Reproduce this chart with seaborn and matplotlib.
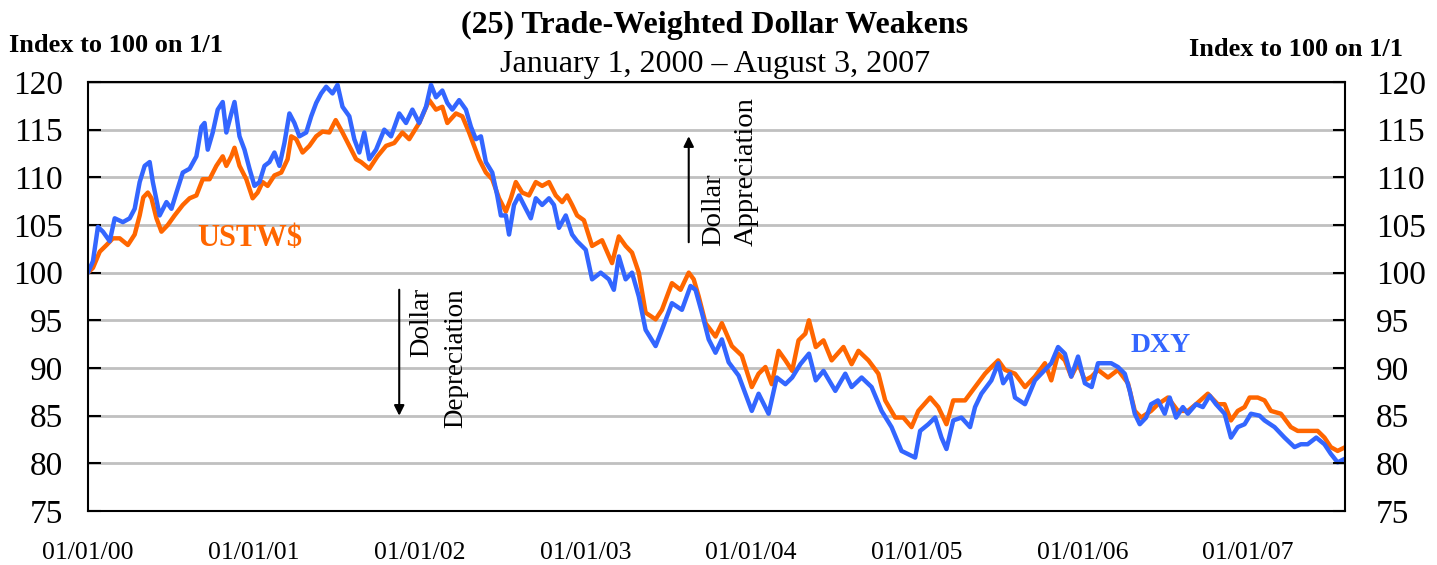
import pandas as pd
import seaborn as sns
import matplotlib.pyplot as plt
import matplotlib.dates as mdates

# USTW$ (orange)
ustw_dates = [
    "2000-01-01", "2000-01-12", "2000-01-27", "2000-02-11", "2000-02-25", "2000-03-11",
    "2000-03-29", "2000-04-13", "2000-04-24", "2000-05-02", "2000-05-12", "2000-05-20",
    "2000-05-31", "2000-06-11", "2000-06-25", "2000-07-10", "2000-07-28", "2000-08-12",
    "2000-08-27", "2000-09-10", "2000-09-25", "2000-10-10", "2000-10-24", "2000-11-01",
    "2000-11-12", "2000-11-19", "2000-11-30", "2000-12-15", "2000-12-29", "2001-01-09",
    "2001-01-20", "2001-01-31", "2001-02-15", "2001-03-02", "2001-03-16", "2001-03-24",
    "2001-04-04", "2001-04-18", "2001-05-03", "2001-05-18", "2001-06-01", "2001-06-16",
    "2001-06-30", "2001-07-15", "2001-07-30", "2001-08-14", "2001-08-25", "2001-09-12",
    "2001-09-30", "2001-10-19", "2001-11-06", "2001-11-24", "2001-12-09", "2001-12-31",
    "2002-01-22", "2002-02-06", "2002-02-20", "2002-03-03", "2002-03-22", "2002-04-05",
    "2002-04-20", "2002-05-01", "2002-05-12", "2002-05-27", "2002-06-10", "2002-06-25",
    "2002-07-10", "2002-07-21", "2002-08-01", "2002-08-15", "2002-08-30", "2002-09-14",
    "2002-09-28", "2002-10-13", "2002-10-28", "2002-11-11", "2002-11-22", "2002-12-03",
    "2002-12-14", "2002-12-29", "2003-01-16", "2003-02-07", "2003-03-01", "2003-03-16",
    "2003-03-31", "2003-04-14", "2003-04-29", "2003-05-14", "2003-06-05", "2003-06-19",
    "2003-07-11", "2003-07-30", "2003-08-17", "2003-08-28", "2003-09-08", "2003-09-23",
    "2003-10-15", "2003-10-29", "2003-11-20", "2003-12-12", "2004-01-03", "2004-01-18",
    "2004-02-02", "2004-02-16", "2004-03-02", "2004-03-17", "2004-04-01", "2004-04-15",
    "2004-04-30", "2004-05-08", "2004-05-23", "2004-06-09", "2004-06-27", "2004-07-23",
    "2004-08-10", "2004-08-25", "2004-09-16", "2004-10-08", "2004-10-23", "2004-11-14",
    "2004-12-02", "2004-12-20", "2005-01-04", "2005-01-30", "2005-02-17", "2005-03-07",
    "2005-03-22", "2005-04-17", "2005-05-09", "2005-05-31", "2005-06-14", "2005-06-29",
    "2005-07-14", "2005-08-05", "2005-08-27", "2005-09-18", "2005-10-10", "2005-10-24",
    "2005-11-08", "2005-11-23", "2005-12-07", "2005-12-22", "2006-01-06", "2006-01-21",
    "2006-02-04", "2006-02-26", "2006-03-20", "2006-04-11", "2006-04-26", "2006-05-10",
    "2006-06-01", "2006-06-16", "2006-07-08", "2006-07-30", "2006-08-21", "2006-09-08",
    "2006-10-04", "2006-10-26", "2006-11-10", "2006-11-24", "2006-12-09", "2006-12-24",
    "2007-01-04", "2007-01-22", "2007-02-06", "2007-02-20", "2007-03-14", "2007-04-05",
    "2007-04-20", "2007-05-12", "2007-06-03", "2007-06-18", "2007-07-02", "2007-07-17",
    "2007-08-03",
]
ustw = [
    100.0, 100.5, 102.2, 102.9, 103.6, 103.6,
    102.9, 104.0, 106.0, 107.9, 108.4, 107.8,
    105.7, 104.3, 105.0, 106.0, 107.1, 107.8,
    108.1, 109.8, 109.8, 111.2, 112.2, 111.2,
    112.2, 113.1, 111.2, 109.8, 107.8, 108.4,
    109.5, 109.1, 110.2, 110.5, 111.9, 114.3,
    114.0, 112.6, 113.3, 114.3, 114.8, 114.7,
    116.0, 114.7, 113.3, 111.9, 111.6, 110.9,
    112.2, 113.3, 113.6, 114.7, 114.0, 115.7,
    118.1, 117.1, 117.4, 115.7, 116.7, 116.4,
    114.7, 113.3, 111.9, 110.5, 109.8, 107.8,
    106.4, 107.8, 109.5, 108.4, 108.1, 109.5,
    109.1, 109.5, 108.1, 107.4, 108.1, 107.1,
    106.0, 105.5, 102.8, 103.4, 101.0, 103.8,
    102.8, 102.1, 100.0, 95.8, 95.1, 96.1,
    98.9, 98.2, 100.0, 99.3, 97.5, 94.7,
    93.3, 94.7, 92.3, 91.3, 88.0, 89.4,
    90.1, 88.3, 91.8, 90.8, 89.7, 92.9,
    93.6, 95.0, 92.2, 92.9, 90.8, 92.2,
    90.4, 91.8, 90.8, 89.4, 86.6, 84.8,
    84.8, 83.8, 85.5, 86.9, 85.9, 84.1,
    86.6, 86.6, 88.0, 89.4, 90.1, 90.8,
    89.8, 89.4, 88.0, 89.1, 90.5, 88.7,
    91.5, 90.8, 89.1, 90.5, 88.7, 89.1,
    89.8, 89.0, 89.8, 88.4, 85.5, 84.8,
    85.5, 86.2, 86.9, 85.5, 85.5, 86.2,
    87.3, 86.2, 86.2, 84.5, 85.5, 85.9,
    86.9, 86.9, 86.6, 85.5, 85.2, 83.8,
    83.4, 83.4, 83.4, 82.7, 81.7, 81.3,
    81.7,
]

# DXY (blue)
dxy_dates = [
    "2000-01-01", "2000-01-12", "2000-01-23", "2000-02-03", "2000-02-18", "2000-02-29",
    "2000-03-18", "2000-04-02", "2000-04-13", "2000-04-24", "2000-05-05", "2000-05-16",
    "2000-05-23", "2000-06-07", "2000-06-22", "2000-07-03", "2000-07-14", "2000-07-28",
    "2000-08-12", "2000-08-27", "2000-09-07", "2000-09-14", "2000-09-21", "2000-10-02",
    "2000-10-13", "2000-10-24", "2000-11-01", "2000-11-12", "2000-11-19", "2000-11-30",
    "2000-12-11", "2000-12-22", "2001-01-02", "2001-01-13", "2001-01-24", "2001-02-04",
    "2001-02-15", "2001-02-26", "2001-03-09", "2001-03-20", "2001-03-31", "2001-04-11",
    "2001-04-26", "2001-05-07", "2001-05-18", "2001-05-29", "2001-06-09", "2001-06-23",
    "2001-07-04", "2001-07-15", "2001-07-30", "2001-08-10", "2001-08-21", "2001-09-01",
    "2001-09-12", "2001-09-27", "2001-10-15", "2001-10-30", "2001-11-17", "2001-12-02",
    "2001-12-16", "2001-12-31", "2002-01-15", "2002-01-26", "2002-02-06", "2002-02-20",
    "2002-03-03", "2002-03-14", "2002-03-29", "2002-04-13", "2002-04-24", "2002-05-05",
    "2002-05-16", "2002-05-27", "2002-06-10", "2002-06-21", "2002-06-29", "2002-07-10",
    "2002-07-17", "2002-07-28", "2002-08-08", "2002-08-23", "2002-09-03", "2002-09-14",
    "2002-09-28", "2002-10-13", "2002-10-24", "2002-11-04", "2002-11-19", "2002-12-03",
    "2002-12-14", "2003-01-02", "2003-01-16", "2003-02-04", "2003-02-22", "2003-03-05",
    "2003-03-16", "2003-03-31", "2003-04-14", "2003-04-29", "2003-05-14", "2003-06-05",
    "2003-06-19", "2003-07-11", "2003-08-02", "2003-08-21", "2003-09-01", "2003-09-15",
    "2003-09-30", "2003-10-15", "2003-10-29", "2003-11-13", "2003-12-05", "2004-01-03",
    "2004-01-18", "2004-02-09", "2004-02-27", "2004-03-17", "2004-04-01", "2004-04-19",
    "2004-05-08", "2004-05-23", "2004-06-09", "2004-07-05", "2004-07-27", "2004-08-10",
    "2004-09-01", "2004-09-23", "2004-10-15", "2004-11-06", "2004-11-28", "2004-12-28",
    "2005-01-08", "2005-01-26", "2005-02-10", "2005-02-24", "2005-03-07", "2005-03-22",
    "2005-04-09", "2005-04-28", "2005-05-09", "2005-05-23", "2005-06-14", "2005-06-29",
    "2005-07-10", "2005-07-25", "2005-08-05", "2005-08-27", "2005-09-18", "2005-10-10",
    "2005-10-24", "2005-11-08", "2005-11-23", "2005-12-07", "2005-12-22", "2006-01-06",
    "2006-01-21", "2006-02-04", "2006-02-19", "2006-03-05", "2006-03-20", "2006-04-04",
    "2006-04-15", "2006-04-26", "2006-05-07", "2006-05-21", "2006-06-01", "2006-06-16",
    "2006-07-01", "2006-07-12", "2006-07-26", "2006-08-10", "2006-08-21", "2006-09-08",
    "2006-09-23", "2006-10-08", "2006-10-22", "2006-11-10", "2006-11-24", "2006-12-09",
    "2006-12-24", "2007-01-07", "2007-01-26", "2007-02-06", "2007-02-28", "2007-03-22",
    "2007-04-13", "2007-04-27", "2007-05-12", "2007-05-31", "2007-06-18", "2007-07-02",
    "2007-07-17", "2007-08-03",
]
dxy = [
    100.0, 101.2, 104.8, 104.3, 103.3, 105.7,
    105.3, 105.7, 106.7, 109.5, 111.2, 111.6,
    109.5, 106.0, 107.4, 106.7, 108.4, 110.5,
    110.9, 112.2, 115.3, 115.7, 112.9, 114.7,
    117.1, 117.9, 114.7, 116.7, 117.9, 114.3,
    112.9, 110.9, 109.1, 109.5, 111.2, 111.6,
    112.6, 111.2, 113.6, 116.7, 115.7, 114.3,
    114.7, 116.4, 117.8, 118.8, 119.5, 118.8,
    119.7, 117.4, 116.4, 114.0, 112.6, 114.7,
    111.9, 112.9, 115.0, 114.3, 116.7, 115.7,
    117.1, 115.7, 117.4, 119.7, 118.4, 119.1,
    117.8, 117.1, 118.1, 117.1, 115.3, 114.0,
    114.3, 111.6, 110.5, 108.1, 106.0, 106.0,
    104.0, 107.1, 108.1, 106.7, 105.7, 107.8,
    107.1, 107.8, 107.1, 104.7, 106.0, 104.0,
    103.3, 102.4, 99.3, 100.0, 99.3, 98.2,
    101.7, 99.3, 100.0, 97.5, 94.0, 92.3,
    94.0, 96.8, 96.1, 98.6, 98.2, 95.8,
    93.0, 91.6, 93.0, 90.6, 89.2, 85.5,
    87.3, 85.2, 89.0, 88.3, 89.0, 90.4,
    91.5, 88.7, 89.7, 87.6, 89.4, 88.0,
    89.0, 88.0, 85.5, 83.8, 81.3, 80.6,
    83.4, 84.1, 84.8, 82.7, 81.5, 84.5,
    84.8, 83.8, 85.9, 87.3, 88.7, 90.5,
    88.4, 89.4, 86.9, 86.2, 88.7, 89.8,
    90.5, 92.2, 91.5, 89.1, 91.2, 88.4,
    88.0, 90.5, 90.5, 90.5, 90.1, 89.4,
    87.6, 85.2, 84.1, 84.8, 86.2, 86.6,
    85.2, 86.9, 84.8, 85.9, 85.2, 86.2,
    85.9, 87.1, 86.2, 85.2, 82.7, 83.8,
    84.1, 85.2, 85.0, 84.5, 83.8, 82.7,
    81.7, 82.0, 82.0, 82.7, 82.0, 81.0,
    80.1, 80.5,
]

y_ticks = list(range(75, 125, 5))
year_ticks = ["2000-01-01", "2001-01-01", "2002-01-01", "2003-01-01",
              "2004-01-01", "2005-01-01", "2006-01-01", "2007-01-01"]

orange = "#FF6600"
blue = "#3366FF"

sns.set_style("white")
plt.rcParams['font.family'] = ['Liberation Serif', 'DejaVu Serif']
plt.rcParams['text.color'] = 'black'
plt.rcParams['xtick.color'] = 'black'
plt.rcParams['ytick.color'] = 'black'

fig = plt.figure(figsize=(14.37, 5.65), dpi=100)
ax = fig.add_axes([0.0612, 0.0956, 0.875, 0.7593])

sns.lineplot(x=pd.to_datetime(ustw_dates), y=ustw, color=orange, lw=3.2, ax=ax)
sns.lineplot(x=pd.to_datetime(dxy_dates), y=dxy, color=blue, lw=3.2, ax=ax)

ax.set_ylim(75, 120)
ax.set_yticks(y_ticks)
ax.set_xlim(pd.Timestamp("2000-01-01"), pd.Timestamp("2007-08-03"))
ax.set_xticks(pd.to_datetime(year_ticks))
ax.xaxis.set_major_formatter(mdates.DateFormatter("%m/%d/%y"))
ax.grid(axis='y', color='#C0C0C0', lw=2)
ax.set_axisbelow(True)
for s in ax.spines.values():
    s.set_color('black')
    s.set_linewidth(1.5)
ax.tick_params(axis='y', direction='in', length=9, width=1.5, labelsize=24, pad=18)
ax.tick_params(axis='x', direction='out', length=8, width=1.5, labelsize=18.5, pad=14)
ax.set_xlabel('')
ax.set_ylabel('')

ax2 = ax.twinx()
ax2.set_ylim(75, 120)
ax2.set_yticks(y_ticks)
ax2.tick_params(axis='y', direction='in', length=9, width=1.5, labelsize=24, pad=22)
for s in ax2.spines.values():
    s.set_visible(False)

# series labels
ax.text(pd.Timestamp("2000-12-22"), 103.6, "USTW$", color=orange, fontsize=22,
        fontweight='bold', ha='center', va='center')
ax.text(pd.Timestamp("2006-06-23"), 92.4, "DXY", color=blue, fontsize=20,
        fontweight='bold', ha='center', va='center')

# appreciation / depreciation arrows
ax.annotate("", xy=(pd.Timestamp("2003-08-17"), 114.6), xytext=(pd.Timestamp("2003-08-17"), 102.9),
            arrowprops=dict(arrowstyle='-|>', color='black', lw=1.5, mutation_scale=15))
ax.text(pd.Timestamp("2003-11-15"), 102.8, "Dollar\nAppreciation", rotation=90, fontsize=20.5,
        ha='center', va='bottom', multialignment='left', linespacing=1.4)
ax.annotate("", xy=(pd.Timestamp("2001-11-17"), 84.7), xytext=(pd.Timestamp("2001-11-17"), 98.5),
            arrowprops=dict(arrowstyle='-|>', color='black', lw=1.5, mutation_scale=15))
ax.text(pd.Timestamp("2002-02-12"), 98.4, "Dollar\nDepreciation", rotation=90, fontsize=19.5,
        ha='center', va='top', multialignment='right', linespacing=1.45)

fig.text(0.497, 0.955, "(25) Trade-Weighted Dollar Weakens", fontsize=23, fontweight='bold',
         ha='center', va='center')
fig.text(0.4975, 0.885, "January 1, 2000 \u2013 August 3, 2007", fontsize=23,
         ha='center', va='center')
fig.text(0.006, 0.92, "Index to 100 on 1/1", fontsize=19, fontweight='bold', ha='left', va='center')
fig.text(0.976, 0.912, "Index to 100 on 1/1", fontsize=19, fontweight='bold', ha='right', va='center')

plt.savefig("out.png", dpi=100)
